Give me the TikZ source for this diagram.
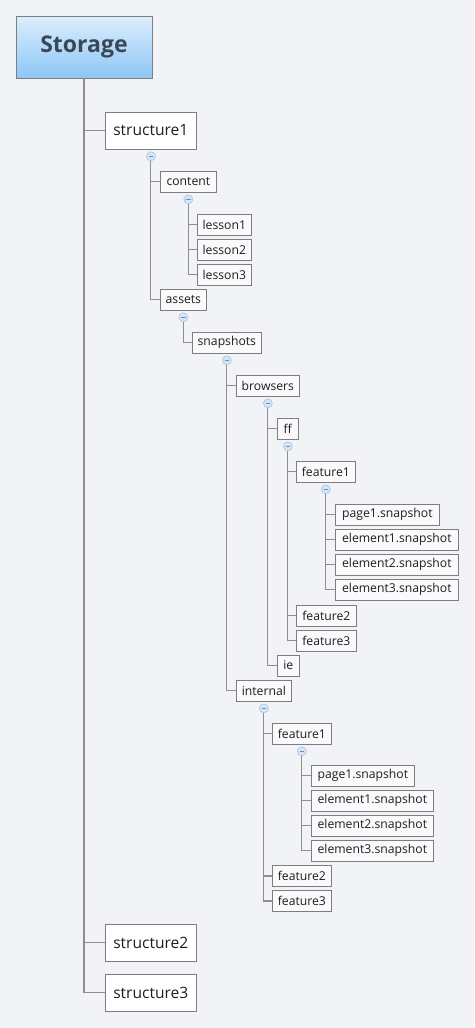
\documentclass[tikz,border=0pt]{standalone}
\usepackage{fontspec}
\setmainfont{Open Sans}
\definecolor{bgc}{HTML}{F2F3F7}
\definecolor{boxc}{HTML}{7E7E7E}
\definecolor{linec}{HTML}{8E8E8E}
\definecolor{txt}{HTML}{1E1E1E}
\definecolor{togf}{HTML}{D6E4F6}
\definecolor{togb}{HTML}{A9C3E6}
\definecolor{togm}{HTML}{6F8FBF}
\definecolor{rtop}{HTML}{DCEEFD}
\definecolor{rbot}{HTML}{8CC6F5}
\definecolor{rtxt}{HTML}{3A4856}
\tikzset{
  bx/.style={draw=boxc, fill=white!60!bgc, line width=0.7pt, inner sep=0pt, anchor=west,
    minimum height=21pt, font=\fontsize{12.2}{14}\selectfont, text=txt},
  bigbx/.style={bx, fill=white, minimum height=37pt, minimum width=91pt, font=\fontsize{15.6}{18}\selectfont},
  conn/.style={draw=linec, line width=1.1pt},
  trunk/.style={draw=linec, line width=1.3pt},
  tog/.style={circle, draw=togb, fill=togf, line width=0.6pt, minimum size=9pt, inner sep=0pt},
  togminus/.style={draw=togm, line width=0.8pt}
}
\newcommand{\togat}[2]{%
  \coordinate (#1) at ([yshift=-7pt]#2.south);
}
\newcommand{\drawtog}[1]{%
  \node[tog] (#1n) at (#1) {};
  \draw[togminus] ([xshift=-2.2pt]#1n.center) -- ([xshift=2.2pt]#1n.center);
}
\begin{document}
\begin{tikzpicture}[x=1pt,y=-1pt]
\fill[bgc] (0,0) rectangle (474,1028);
\useasboundingbox (0,0) rectangle (474,1028);

% root
\node[draw=boxc, line width=0.7pt, top color=rtop, bottom color=rbot, minimum width=136pt, minimum height=62pt,
  inner sep=0pt, text=rtxt, font=\fontsize{23}{26}\selectfont\bfseries] (storage) at (84,47) {Storage};

% level 1
\node[bigbx] (s1) at (105,130.5) {structure1};
\node[bigbx] (s2) at (105,942.5) {structure2};
\node[bigbx] (s3) at (105,992.5) {structure3};

% structure1 children
\node[bx, minimum width=56pt] (content) at (160,181.5) {content};
\node[bx, minimum width=54pt] (l1) at (197,224.5) {lesson1};
\node[bx, minimum width=54pt] (l2) at (197,249.5) {lesson2};
\node[bx, minimum width=54pt] (l3) at (197,274.5) {lesson3};
\node[bx, minimum width=46pt] (assets) at (160,299.5) {assets};
\node[bx, minimum width=69pt] (snap) at (192,342.5) {snapshots};
\node[bx, minimum width=63pt] (browsers) at (236,385.5) {browsers};
\node[bx, minimum width=21pt] (ff) at (277,428.5) {ff};
\node[bx, minimum width=59pt] (ffa) at (296,471.5) {feature1};
\node[bx, minimum width=104pt] (fp1) at (335,514.5) {page1.snapshot};
\node[bx, minimum width=123pt] (fe1) at (335,539.5) {element1.snapshot};
\node[bx, minimum width=123pt] (fe2) at (335,564.5) {element2.snapshot};
\node[bx, minimum width=123pt] (fe3) at (335,589.5) {element3.snapshot};
\node[bx, minimum width=60pt] (ffb) at (296,615.5) {feature2};
\node[bx, minimum width=60pt] (ffc) at (296,640.5) {feature3};
\node[bx, minimum width=22pt] (ie) at (277,665.5) {ie};
\node[bx, minimum width=55pt] (internal) at (236,690.5) {internal};
\node[bx, minimum width=59pt] (ina) at (272,733.5) {feature1};
\node[bx, minimum width=103pt] (ip1) at (311,775.5) {page1.snapshot};
\node[bx, minimum width=122pt] (ie1) at (311,800.5) {element1.snapshot};
\node[bx, minimum width=122pt] (ie2) at (311,825.5) {element2.snapshot};
\node[bx, minimum width=122pt] (ie3) at (311,850.5) {element3.snapshot};
\node[bx, minimum width=59pt] (inb) at (272,876) {feature2};
\node[bx, minimum width=59pt] (inc) at (272,901) {feature3};

% toggle points
\togat{t1}{s1}
\togat{t2}{content}
\togat{t3}{assets}
\togat{t4}{snap}
\togat{t5}{browsers}
\togat{t6}{ff}
\togat{t7}{ffa}
\togat{t8}{internal}
\togat{t9}{ina}

% connectors
\draw[trunk] (storage.south) |- (s1.west);
\draw[trunk] (storage.south) |- (s2.west);
\draw[trunk] (storage.south) |- (s3.west);

\draw[conn] (t1) |- (content.west);
\draw[conn] (t1) |- (assets.west);
\draw[conn] (t2) |- (l1.west);
\draw[conn] (t2) |- (l2.west);
\draw[conn] (t2) |- (l3.west);
\draw[conn] (t3) |- (snap.west);
\draw[conn] (t4) |- (browsers.west);
\draw[conn] (t4) |- (internal.west);
\draw[conn] (t5) |- (ff.west);
\draw[conn] (t5) |- (ie.west);
\draw[conn] (t6) |- (ffa.west);
\draw[conn] (t6) |- (ffb.west);
\draw[conn] (t6) |- (ffc.west);
\draw[conn] (t7) |- (fp1.west);
\draw[conn] (t7) |- (fe1.west);
\draw[conn] (t7) |- (fe2.west);
\draw[conn] (t7) |- (fe3.west);
\draw[conn] (t8) |- (ina.west);
\draw[conn] (t8) |- (inb.west);
\draw[conn] (t8) |- (inc.west);
\draw[conn] (t9) |- (ip1.west);
\draw[conn] (t9) |- (ie1.west);
\draw[conn] (t9) |- (ie2.west);
\draw[conn] (t9) |- (ie3.west);

\drawtog{t1}
\drawtog{t2}
\drawtog{t3}
\drawtog{t4}
\drawtog{t5}
\drawtog{t6}
\drawtog{t7}
\drawtog{t8}
\drawtog{t9}
\end{tikzpicture}
\end{document}
